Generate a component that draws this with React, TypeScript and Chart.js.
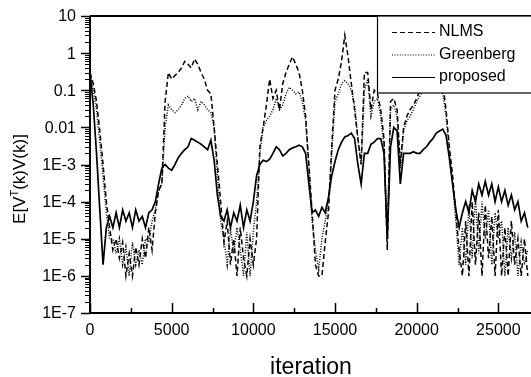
import React, { useEffect, useRef } from 'react';
import { Chart, registerables } from 'chart.js';

Chart.register(...registerables);

// Sample spacing of the curves (iterations between samples)
const STEP = 200;

// E[V^T(k)V(k)], one value per STEP iterations
const nlms = [
  0.3, 0.15, 0.05, 8e-3, 1e-3, 1e-4, 2e-5, 5e-6, 1e-5, 3e-6,
  8e-6, 1e-6, 4e-6, 1e-6, 6e-6, 2e-6, 1e-5, 3e-6, 2e-5, 5e-6,
  5e-5, 2e-4, 3e-4, 0.05, 0.3, 0.2, 0.25, 0.3, 0.4, 0.6,
  0.5, 0.4, 0.7, 0.5, 0.3, 0.2, 0.1, 0.08, 0.01, 1e-3,
  1e-4, 8e-6, 3e-5, 2e-6, 1e-5, 1e-6, 2e-5, 3e-6, 1e-6, 1e-5,
  2e-6, 1e-5, 3e-3, 0.01, 0.04, 0.2, 0.06, 0.1, 0.03, 0.15,
  0.3, 0.5, 0.8, 0.5, 0.3, 0.1, 0.02, 1e-3, 5e-5, 2e-6,
  1e-6, 1e-6, 8e-6, 5e-5, 3e-3, 0.1, 0.2, 0.6, 3, 0.8,
  0.15, 0.03, 5e-3, 1e-3, 0.3, 0.3, 0.03, 0.1, 0.08, 0.03,
  5e-3, 5e-6, 0.05, 0.06, 0.03, 1e-3, 0.01, 0.02, 0.03, 0.04,
  0.06, 0.1, 0.2, 0.3, 0.4, 0.5, 0.5, 0.4, 0.15, 0.03,
  3e-3, 5e-4, 5e-5, 5e-6, 1e-6, 3e-5, 1e-6, 1e-4, 2e-6, 5e-5,
  1e-6, 8e-5, 3e-6, 4e-5, 1e-6, 6e-5, 1e-6, 2e-5, 1e-6, 3e-5,
  2e-6, 1e-5, 1e-6, 1e-5, 1e-6,
];

const greenberg = [
  0.3, 0.1, 0.03, 4e-3, 5e-4, 5e-5, 1e-5, 1e-5, 4e-6, 1e-5,
  2e-6, 6e-6, 1e-6, 8e-6, 2e-6, 5e-6, 2e-6, 1e-5, 8e-6, 3e-5,
  6e-5, 2e-4, 3e-4, 0.01, 0.04, 0.03, 0.025, 0.03, 0.04, 0.06,
  0.07, 0.05, 0.06, 0.03, 0.05, 0.04, 0.03, 0.025, 0.01, 5e-4,
  3e-5, 1e-5, 2e-6, 2e-5, 4e-6, 2e-5, 5e-6, 1e-6, 1.5e-5, 1e-6,
  1.5e-5, 1e-4, 2e-3, 0.01, 0.015, 0.02, 0.03, 0.06, 0.03, 0.04,
  0.08, 0.12, 0.1, 0.08, 0.09, 0.05, 0.015, 8e-4, 3e-5, 5e-6,
  1.5e-6, 1e-5, 3e-5, 1e-4, 2e-3, 0.05, 0.08, 0.15, 0.18, 0.15,
  0.1, 0.04, 5e-3, 1e-3, 0.1, 0.2, 0.02, 0.05, 0.06, 0.02,
  3e-3, 1e-5, 0.03, 0.04, 0.02, 8e-4, 8e-3, 0.015, 0.02, 0.03,
  0.05, 0.07, 0.1, 0.12, 0.15, 0.15, 0.14, 0.12, 0.08, 0.02,
  2e-3, 3e-4, 3e-5, 2e-6, 2e-5, 2e-6, 8e-5, 3e-6, 1.5e-4, 4e-6,
  1e-4, 1e-5, 6e-5, 2e-6, 5e-5, 1e-5, 3e-5, 1e-6, 2e-5, 3e-6,
  1.5e-5, 1e-6, 8e-6, 2e-6, 5e-6,
];

const proposed = [
  0.3, 0.04, 2e-3, 6e-5, 2e-6, 2e-5, 4e-5, 2e-5, 5e-5, 2e-5,
  6e-5, 3e-5, 5e-5, 2e-5, 6e-5, 3e-5, 4e-5, 2e-5, 5e-5, 6e-5,
  1e-4, 3e-4, 8e-4, 1e-3, 8e-4, 7e-4, 1e-3, 1.5e-3, 2e-3, 2.5e-3,
  3e-3, 5e-3, 4.5e-3, 4e-3, 3.5e-3, 3e-3, 2.5e-3, 4.5e-3, 1.3e-3, 1.5e-4,
  4e-5, 3e-5, 6e-5, 2e-5, 5e-5, 3e-5, 8e-5, 2e-5, 6e-5, 3e-5,
  1e-4, 5e-4, 1e-3, 1.3e-3, 1.2e-3, 1.4e-3, 2e-3, 3e-3, 2.5e-3, 1.7e-3,
  2e-3, 2.5e-3, 2.8e-3, 3e-3, 3.3e-3, 3e-3, 2e-3, 3e-4, 5e-5, 6e-5,
  4e-5, 7e-5, 5e-5, 1.3e-4, 5e-4, 1.2e-3, 2.5e-3, 4e-3, 5.5e-3, 6e-3,
  7e-3, 5e-3, 1e-3, 3e-4, 2e-3, 2e-3, 3.5e-3, 4e-3, 5e-3, 5e-3,
  2e-3, 1e-5, 3e-3, 1e-2, 8e-3, 3e-4, 2e-3, 2e-3, 2e-3, 2.2e-3,
  2e-3, 2e-3, 2.5e-3, 3e-3, 4e-3, 5e-3, 7e-3, 8e-3, 9e-3, 6e-3,
  1.5e-3, 3e-4, 6e-5, 2e-5, 5e-5, 1e-4, 5e-5, 2e-4, 1e-4, 3e-4,
  1.5e-4, 3.5e-4, 1.5e-4, 3e-4, 1e-4, 2.5e-4, 1e-4, 2e-4, 8e-5, 1.5e-4,
  6e-5, 1e-4, 3e-5, 5e-5, 2e-5,
];

const iterations = proposed.map((_, i) => i * STEP);

const seriesNames = ['NLMS', 'Greenberg', 'proposed'];
const xTickValues = [0, 5000, 10000, 15000, 20000, 25000];
const xTickLabels = ['0', '5000', '10000', '15000', '20000', '25000'];
const xMinorValues = [2500, 7500, 12500, 17500, 22500];
const yTickValues = [10, 1, 0.1, 0.01, 1e-3, 1e-4, 1e-5, 1e-6, 1e-7];
const yTickLabels = ['10', '1', '0.1', '0.01', '1E-3', '1E-4', '1E-5', '1E-6', '1E-7'];
const yMinorMultipliers = [2, 3, 4, 5, 6, 7, 8, 9];

const FONT = '"Liberation Sans", Arial, Helvetica, sans-serif';
const DASHES: number[][] = [[5, 3], [1, 1.6], []];

const paperPlugin = {
  id: 'paperAxes',
  afterDatasetsDraw(chart: any) {
    const { ctx, chartArea: a, scales } = chart;
    const xs = scales.x;
    const ys = scales.y;
    ctx.save();
    ctx.strokeStyle = '#000';
    ctx.fillStyle = '#000';
    ctx.setLineDash([]);

    // frame: top, left, bottom
    ctx.lineWidth = 2;
    ctx.beginPath();
    ctx.moveTo(a.left, a.top);
    ctx.lineTo(a.right + 2, a.top);
    ctx.moveTo(a.left, a.top);
    ctx.lineTo(a.left, a.bottom);
    ctx.moveTo(a.left - 1, a.bottom);
    ctx.lineTo(a.right + 2, a.bottom);
    ctx.stroke();

    // y ticks
    ctx.lineWidth = 1.5;
    ctx.beginPath();
    yTickValues.forEach((v) => {
      const y = Math.round(ys.getPixelForValue(v)) + 0.5;
      ctx.moveTo(a.left - 9, y);
      ctx.lineTo(a.left, y);
    });
    ctx.stroke();
    ctx.lineWidth = 1;
    ctx.beginPath();
    yTickValues.slice(1).forEach((v) => {
      yMinorMultipliers.forEach((m) => {
        const y = Math.round(ys.getPixelForValue(v * m)) + 0.5;
        ctx.moveTo(a.left - 5, y);
        ctx.lineTo(a.left, y);
      });
    });
    ctx.stroke();

    // x ticks (inward)
    ctx.lineWidth = 1.5;
    ctx.beginPath();
    xTickValues.forEach((v) => {
      const x = Math.round(xs.getPixelForValue(v)) + 0.5;
      ctx.moveTo(x, a.bottom);
      ctx.lineTo(x, a.bottom - 10);
    });
    xMinorValues.forEach((v) => {
      const x = Math.round(xs.getPixelForValue(v)) + 0.5;
      ctx.moveTo(x, a.bottom);
      ctx.lineTo(x, a.bottom - 5);
    });
    ctx.stroke();

    // tick labels
    ctx.font = `16px ${FONT}`;
    ctx.textAlign = 'right';
    ctx.textBaseline = 'middle';
    yTickValues.forEach((v, i) => {
      ctx.fillText(yTickLabels[i], a.left - 14, ys.getPixelForValue(v) + 1);
    });
    ctx.textAlign = 'center';
    xTickValues.forEach((v, i) => {
      ctx.fillText(xTickLabels[i], xs.getPixelForValue(v), a.bottom + 18);
    });

    // x title
    ctx.font = `23px ${FONT}`;
    ctx.textBaseline = 'alphabetic';
    ctx.fillText('iteration', 311, 374);

    // y title with superscript T
    ctx.save();
    ctx.translate(25, 179);
    ctx.rotate(-Math.PI / 2);
    const big = `17px ${FONT}`;
    const small = `11px ${FONT}`;
    const parts: [string, string, number][] = [
      ['E[V', big, 0],
      ['T', small, -7],
      ['(k)V(k)]', big, 0],
    ];
    let total = 0;
    parts.forEach(([t, f]) => {
      ctx.font = f;
      total += ctx.measureText(t).width;
    });
    let cx = -total / 2;
    ctx.textAlign = 'left';
    parts.forEach(([t, f, dy]) => {
      ctx.font = f;
      ctx.fillText(t, cx, dy);
      cx += ctx.measureText(t).width;
    });
    ctx.restore();

    // legend box
    const lx = 377;
    const ly = a.top;
    const lw = chart.width - lx + 5;
    const lh = 77;
    ctx.fillStyle = '#fff';
    ctx.fillRect(lx, ly, lw, lh);
    ctx.strokeStyle = '#000';
    ctx.lineWidth = 1.2;
    ctx.strokeRect(lx + 0.5, ly, lw, lh);
    ctx.fillStyle = '#000';
    ctx.font = `16px ${FONT}`;
    ctx.textAlign = 'left';
    ctx.textBaseline = 'middle';
    const rows = [32, 54.5, 77];
    seriesNames.forEach((name, i) => {
      ctx.setLineDash(DASHES[i]);
      ctx.lineWidth = 1.2;
      ctx.beginPath();
      ctx.moveTo(392, rows[i] + 0.5);
      ctx.lineTo(435, rows[i] + 0.5);
      ctx.stroke();
      ctx.setLineDash([]);
      ctx.fillText(name, 439, rows[i]);
    });
    ctx.restore();
  },
};

export default function App() {
  const canvasRef = useRef<HTMLCanvasElement | null>(null);

  useEffect(() => {
    const canvas = canvasRef.current;
    if (!canvas) return;
    const series = [nlms, greenberg, proposed];
    const chart = new Chart(canvas, {
      type: 'line',
      data: {
        datasets: series.map((arr, i) => ({
          label: seriesNames[i],
          data: arr.map((y, k) => ({ x: iterations[k], y })),
          borderColor: '#000',
          borderWidth: i === 2 ? 1.7 : 1.5,
          borderDash: DASHES[i],
          pointRadius: 0,
          tension: 0,
          fill: false,
        })),
      },
      options: {
        animation: false,
        responsive: false,
        devicePixelRatio: 1,
        events: [],
        layout: { padding: { left: 90, top: 16, right: 0, bottom: 64 } },
        plugins: {
          legend: { display: false },
          tooltip: { enabled: false },
          title: { display: false },
        },
        scales: {
          x: { type: 'linear', min: 0, max: 27000, display: false },
          y: { type: 'logarithmic', min: 1e-7, max: 10, display: false },
        },
      },
      plugins: [paperPlugin],
    });
    return () => chart.destroy();
  }, []);

  return (
    <div style={{ position: 'fixed', left: 0, top: 0, width: 531, height: 377, background: '#fff' }}>
      <canvas ref={canvasRef} width={531} height={377} style={{ display: 'block' }} />
    </div>
  );
}
